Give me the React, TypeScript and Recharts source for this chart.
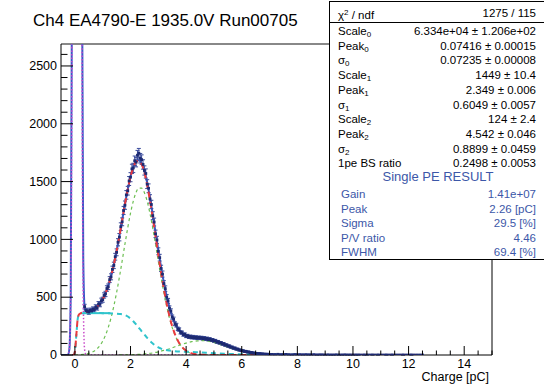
import React from "react";
import {
  ComposedChart,
  Line,
  Scatter,
  ErrorBar,
  XAxis,
  YAxis,
  ReferenceLine,
} from "recharts";

const FONT = '"Liberation Sans", Arial, Helvetica, sans-serif';
const TITLE = "Ch4 EA4790-E 1935.0V Run00705";
const X_TITLE = "Charge [pC]";

// histogram, 0.05 pC bins, centres from 0.35 to 7.00 pC
const HIST_START = 0.35;
const HIST_STEP = 0.05;
const histCounts = [
  418, 385, 378, 371, 386, 380, 396, 392, 414, 409, 441, 438, 470, 478, 515, 528,
  575, 590, 652, 676, 741, 775, 850, 888, 975, 1019, 1110, 1152, 1250, 1296, 1385,
  1421, 1505, 1538, 1610, 1618, 1680, 1668, 1728, 1745, 1702, 1690, 1648, 1596,
  1570, 1478, 1442, 1350, 1302, 1205, 1150, 1048, 995, 897, 842, 749, 700, 618, 574,
  500, 468, 405, 380, 328, 310, 270, 258, 226, 220, 196, 193, 176, 178, 163, 166,
  155, 160, 151, 157, 149, 154, 146, 152, 145, 150, 141, 147, 138, 143, 133, 138,
  128, 131, 121, 124, 112, 115, 104, 106, 95, 97, 86, 87, 77, 78, 68, 68, 59, 60,
  51, 51, 43, 43, 36, 37, 30, 32, 25, 27, 21, 22, 17, 18, 14, 14, 11, 12, 9, 10, 7,
  8, 6, 7, 5,
];
// tail, 0.1 pC bins, centres from 7.1 to 12.5 pC
const TAIL_START = 7.1;
const TAIL_STEP = 0.1;
const tailCounts = [
  5, 4, 6, 3, 4, 5, 3, 2, 4, 3, 3, 2, 3, 2, 2, 3, 1, 2, 2, 1, 2, 1, 1, 2, 1, 1, 2,
  1, 1, 1, 1, 1, 0, 1, 1, 0, 1, 0, 1, 0, 0, 1, 0, 1, 0, 0, 0, 1, 0, 0, 1, 0, 0, 0, 0,
];

// fit curves, [charge, entries]
const totalFit = [
  [-0.5, 0], [-0.3, 0], [-0.25, 3], [-0.2, 49], [-0.15, 526], [-0.1, 3514],
  [-0.05, 14580], [0, 37550], [0.05, 60300], [0.1, 59700], [0.15, 36850],
  [0.2, 14260], [0.25, 3650], [0.3, 846], [0.35, 411], [0.4, 372], [0.5, 376],
  [0.6, 384], [0.7, 398], [0.8, 418], [0.9, 445], [1.0, 483], [1.1, 534],
  [1.2, 599], [1.3, 683], [1.4, 782], [1.5, 899], [1.6, 1028], [1.7, 1165],
  [1.8, 1306], [1.9, 1430], [2.0, 1544], [2.1, 1626], [2.2, 1675], [2.3, 1684],
  [2.4, 1656], [2.5, 1589], [2.6, 1489], [2.7, 1361], [2.8, 1215], [2.9, 1060],
  [3.0, 906], [3.1, 758], [3.2, 626], [3.3, 509], [3.4, 412], [3.5, 335],
  [3.6, 275], [3.7, 230], [3.8, 200], [3.9, 179], [4.0, 166], [4.1, 158],
  [4.2, 154], [4.4, 150], [4.6, 146], [4.8, 137], [5.0, 124], [5.2, 107],
  [5.4, 89], [5.6, 70], [5.8, 53], [6.0, 38], [6.2, 27], [6.4, 18], [6.6, 12],
  [6.8, 8], [7.0, 5], [7.5, 3], [8.0, 2], [9.0, 1], [10.0, 0.5], [12.5, 0.2],
];
const onePeFit = [
  [-0.1, 0], [-0.05, 0], [0, 30], [0.05, 170], [0.1, 310], [0.15, 352], [0.2, 360],
  [0.3, 367], [0.4, 370], [0.5, 377], [0.6, 385], [0.7, 398], [0.8, 418],
  [0.9, 445], [1.0, 483], [1.1, 533], [1.2, 599], [1.3, 683], [1.4, 782],
  [1.5, 899], [1.6, 1028], [1.7, 1165], [1.8, 1305], [1.9, 1430], [2.0, 1542],
  [2.1, 1623], [2.2, 1671], [2.3, 1679], [2.4, 1649], [2.5, 1580], [2.6, 1469],
  [2.7, 1336], [2.8, 1185], [2.9, 1025], [3.0, 864], [3.1, 710], [3.2, 569],
  [3.3, 443], [3.4, 336], [3.5, 248], [3.6, 179], [3.7, 126], [3.8, 86], [3.9, 57],
  [4.0, 37], [4.1, 23], [4.2, 14], [4.4, 5], [4.6, 1.5], [5.0, 0.3], [6.0, 0],
  [12.5, 0],
];
const onePeGauss = [
  [0, 0], [0.3, 5], [0.4, 8], [0.5, 14], [0.6, 22], [0.7, 35], [0.8, 55], [0.9, 82],
  [1.0, 121], [1.1, 172], [1.2, 238], [1.3, 322], [1.4, 423], [1.5, 541],
  [1.6, 673], [1.7, 815], [1.8, 960], [1.9, 1100], [2.0, 1227], [2.1, 1331],
  [2.2, 1406], [2.3, 1444], [2.4, 1444], [2.5, 1404], [2.6, 1329], [2.7, 1224],
  [2.8, 1097], [2.9, 957], [3.0, 812], [3.1, 670], [3.2, 539], [3.3, 421],
  [3.4, 320], [3.5, 237], [3.6, 171], [3.7, 120], [3.8, 82], [3.9, 54], [4.0, 35],
  [4.1, 22], [4.2, 13], [4.4, 5], [4.6, 1.4], [5.0, 0.1], [6.0, 0],
];
const twoPeGauss = [
  [1.6, 0.5], [1.8, 1], [2.0, 2], [2.2, 4], [2.4, 7], [2.6, 12], [2.8, 18],
  [3.0, 28], [3.2, 40], [3.4, 54], [3.6, 71], [3.8, 88], [4.0, 103], [4.2, 115],
  [4.4, 122], [4.6, 124], [4.8, 119], [5.0, 109], [5.2, 94], [5.4, 78], [5.6, 61],
  [5.8, 46], [6.0, 32], [6.2, 22], [6.4, 14], [6.6, 9], [6.8, 5], [7.0, 3],
  [7.4, 0.6], [8.0, 0],
];
const backscatter = [
  [-0.1, 0], [-0.05, 0], [0, 30], [0.05, 170], [0.1, 310], [0.15, 352], [0.2, 360],
  [0.3, 362], [0.5, 363], [0.8, 363], [1.0, 362], [1.2, 361], [1.4, 359],
  [1.6, 355], [1.8, 345], [2.0, 315], [2.1, 292], [2.2, 265], [2.3, 235],
  [2.4, 205], [2.5, 176], [2.6, 148], [2.7, 122], [2.8, 100], [2.9, 81], [3.0, 66],
  [3.1, 55], [3.2, 47], [3.4, 38], [3.6, 33], [3.8, 30], [4.0, 28], [4.2, 26],
  [4.5, 22], [4.8, 18], [5.0, 15], [5.5, 10], [6.0, 6], [6.5, 4], [7.0, 2.5],
  [8.0, 1], [9.0, 0.5], [12.5, 0],
];
const valleyLevel = [
  [0.3, 362], [1.27, 362],
];
const pedestal = [
  [-0.3, 0], [-0.25, 3], [-0.2, 49], [-0.15, 526], [-0.1, 3514], [-0.05, 14580],
  [0, 37550], [0.05, 59930], [0.1, 59380], [0.15, 36490], [0.2, 13900],
  [0.25, 3287], [0.3, 481], [0.35, 44], [0.4, 2], [0.45, 0], [12.5, 0],
];

const xTicks = [
  0, 0.5, 1, 1.5, 2, 2.5, 3, 3.5, 4, 4.5, 5, 5.5, 6, 6.5, 7, 7.5, 8, 8.5, 9, 9.5,
  10, 10.5, 11, 11.5, 12, 12.5, 13, 13.5, 14, 14.5, 15,
];
const yTicks = [
  0, 100, 200, 300, 400, 500, 600, 700, 800, 900, 1000, 1100, 1200, 1300, 1400,
  1500, 1600, 1700, 1800, 1900, 2000, 2100, 2200, 2300, 2400, 2500, 2600,
];

const fitParams = [
  ["Scale", "0", "6.334e+04 \u00b1 1.206e+02"],
  ["Peak", "0", "0.07416 \u00b1 0.00015"],
  ["\u03c3", "0", "0.07235 \u00b1 0.00008"],
  ["Scale", "1", "1449 \u00b1 10.4"],
  ["Peak", "1", "2.349 \u00b1 0.006"],
  ["\u03c3", "1", "0.6049 \u00b1 0.0057"],
  ["Scale", "2", "124 \u00b1 2.4"],
  ["Peak", "2", "4.542 \u00b1 0.046"],
  ["\u03c3", "2", "0.8899 \u00b1 0.0459"],
  ["1pe BS ratio", "", "0.2498 \u00b1 0.0053"],
];
const peResults = [
  ["Gain", "1.41e+07"],
  ["Peak", "2.26 [pC]"],
  ["Sigma", "29.5 [%]"],
  ["P/V ratio", "4.46"],
  ["FWHM", "69.4 [%]"],
];

const PLOT_LEFT = 61;
const PLOT_BOTTOM = 355;
const Y_MAX = 2690;

const toPoints = (pairs: number[][]) => pairs.map(([x, y]) => ({ x, y }));

const histPoints = [
  ...histCounts.map((c, i) => ({
    x: +(HIST_START + i * HIST_STEP).toFixed(2),
    y: c,
    err: Math.sqrt(c),
  })),
  ...tailCounts.map((c, i) => ({
    x: +(TAIL_START + i * TAIL_STEP).toFixed(2),
    y: c,
    err: Math.sqrt(c),
  })),
];

function XTick(props: any) {
  const { x, payload } = props;
  const v = payload.value;
  const major = Math.abs(v / 2 - Math.round(v / 2)) < 1e-6;
  return (
    <g>
      <line
        x1={x}
        x2={x}
        y1={PLOT_BOTTOM}
        y2={PLOT_BOTTOM - (major ? 9 : 4.5)}
        stroke="#000"
      />
      {major && (
        <text
          x={x}
          y={PLOT_BOTTOM + 12.5}
          textAnchor="middle"
          fontSize={12.5}
          fontFamily={FONT}
          fill="#000"
        >
          {v}
        </text>
      )}
    </g>
  );
}

function YTick(props: any) {
  const { y, payload } = props;
  const v = payload.value;
  const major = v % 500 === 0;
  return (
    <g>
      <line
        x1={PLOT_LEFT}
        x2={PLOT_LEFT + (major ? 12 : 6.5)}
        y1={y}
        y2={y}
        stroke="#000"
      />
      {major && (
        <text
          x={57}
          y={y + 4.3}
          textAnchor="end"
          fontSize={12.5}
          fontFamily={FONT}
          fill="#000"
        >
          {v}
        </text>
      )}
    </g>
  );
}

function Marker(props: any) {
  const { cx, cy } = props;
  if (cx == null || cy == null) return null;
  return <rect x={cx - 1.4} y={cy - 1.4} width={2.8} height={2.8} fill="#1d2a72" />;
}

function StatsBox() {
  const rowStyle = (center: number): React.CSSProperties => ({
    position: "absolute",
    left: 0,
    top: center - 7 - 1,
    width: 206,
    height: 14,
    lineHeight: "14px",
    fontSize: 11.5,
  });
  return (
    <div
      style={{
        position: "absolute",
        left: 329,
        top: 1,
        width: 240,
        height: 257,
        border: "1px solid #000",
        background: "#fff",
        fontFamily: FONT,
        color: "#000",
      }}
    >
      <div style={rowStyle(12)}>
        <span style={{ position: "absolute", left: 8 }}>
          {"\u03c7"}
          <sup style={{ fontSize: 8, verticalAlign: "4px" }}>2</sup> / ndf
        </span>
        <span style={{ position: "absolute", right: 0 }}>1275 / 115</span>
      </div>
      <div
        style={{
          position: "absolute",
          left: 0,
          top: 20,
          width: 240,
          borderTop: "1px solid #000",
        }}
      />
      {fitParams.map(([name, sub, value], i) => (
        <div key={i} style={rowStyle(30 + i * 14.7)}>
          <span style={{ position: "absolute", left: 8 }}>
            {name}
            {sub && (
              <sub style={{ fontSize: 8, verticalAlign: "-2px" }}>{sub}</sub>
            )}
          </span>
          <span style={{ position: "absolute", right: 0 }}>{value}</span>
        </div>
      ))}
      <div
        style={{
          position: "absolute",
          left: 0,
          top: 176 - 8 - 1,
          width: 216,
          textAlign: "center",
          lineHeight: "16px",
          fontSize: 13,
          color: "#3c57a8",
        }}
      >
        Single PE RESULT
      </div>
      {peResults.map(([name, value], i) => (
        <div key={i} style={{ ...rowStyle(193 + i * 14.5), color: "#3c57a8" }}>
          <span style={{ position: "absolute", left: 11 }}>{name}</span>
          <span style={{ position: "absolute", right: 0 }}>{value}</span>
        </div>
      ))}
    </div>
  );
}

export default function App() {
  return (
    <div
      style={{
        position: "absolute",
        left: 0,
        top: 0,
        width: 544,
        height: 392,
        overflow: "hidden",
        background: "#fff",
        fontFamily: FONT,
      }}
    >
      <div
        style={{
          position: "absolute",
          left: 33,
          top: 12,
          fontSize: 17,
          lineHeight: "17px",
          color: "#000",
          whiteSpace: "nowrap",
        }}
      >
        {TITLE}
      </div>
      <ComposedChart
        width={544}
        height={392}
        margin={{ top: 44, right: 52, bottom: 0, left: 0 }}
      >
        <XAxis
          type="number"
          dataKey="x"
          domain={[-0.5, 15]}
          ticks={xTicks}
          interval={0}
          tick={<XTick />}
          tickLine={false}
          tickSize={0}
          tickMargin={0}
          axisLine={{ stroke: "#000" }}
          height={37}
          allowDataOverflow
        />
        <YAxis
          type="number"
          domain={[0, Y_MAX]}
          ticks={yTicks}
          interval={0}
          tick={<YTick />}
          tickLine={false}
          tickSize={0}
          tickMargin={0}
          axisLine={{ stroke: "#000" }}
          width={61}
          allowDataOverflow
        />
        <ReferenceLine y={Y_MAX} stroke="#888" strokeWidth={2} ifOverflow="visible" />
        <ReferenceLine x={15} stroke="#000" ifOverflow="visible" />
        <Line
          data={toPoints(totalFit)}
          dataKey="y"
          type="monotone"
          dot={false}
          stroke="#3a5ac8"
          strokeWidth={2}
          isAnimationActive={false}
        />
        <Scatter
          data={histPoints}
          dataKey="y"
          shape={<Marker />}
          isAnimationActive={false}
        >
          <ErrorBar dataKey="err" direction="y" width={2} stroke="#3b4c9c" strokeWidth={1} />
        </Scatter>
        <Line
          data={toPoints(pedestal)}
          dataKey="y"
          type="monotone"
          dot={false}
          stroke="#c94ac9"
          strokeWidth={1.5}
          strokeDasharray="1.5 2"
          isAnimationActive={false}
        />
        <Line
          data={toPoints(onePeGauss)}
          dataKey="y"
          type="monotone"
          dot={false}
          stroke="#6cbf52"
          strokeWidth={1.2}
          strokeDasharray="3 3"
          isAnimationActive={false}
        />
        <Line
          data={toPoints(twoPeGauss)}
          dataKey="y"
          type="monotone"
          dot={false}
          stroke="#6cbf52"
          strokeWidth={1.2}
          strokeDasharray="3 3"
          isAnimationActive={false}
        />
        <Line
          data={toPoints(backscatter)}
          dataKey="y"
          type="monotone"
          dot={false}
          stroke="#30c4cc"
          strokeWidth={2}
          strokeDasharray="5 4"
          isAnimationActive={false}
        />
        <Line
          data={toPoints(valleyLevel)}
          dataKey="y"
          type="linear"
          dot={false}
          stroke="#30c4cc"
          strokeWidth={2}
          isAnimationActive={false}
        />
        <Line
          data={toPoints(onePeFit)}
          dataKey="y"
          type="monotone"
          dot={false}
          stroke="#ea3a3e"
          strokeWidth={2}
          strokeDasharray="6 4"
          isAnimationActive={false}
        />
      </ComposedChart>
      <div
        style={{
          position: "absolute",
          left: 0,
          top: 371,
          width: 489,
          textAlign: "right",
          fontSize: 12.5,
          lineHeight: "12.5px",
          color: "#000",
        }}
      >
        {X_TITLE}
      </div>
      <StatsBox />
    </div>
  );
}
